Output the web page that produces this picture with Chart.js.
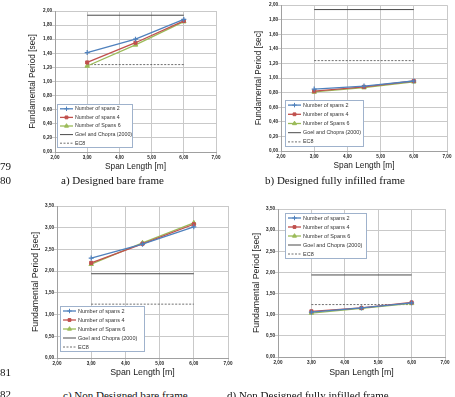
<!DOCTYPE html>
<html>
<head>
<meta charset="utf-8">
<script src="https://cdn.jsdelivr.net/npm/chart.js@4.4.0/dist/chart.umd.min.js"></script>
<style>
  html, body { margin: 0; padding: 0; background: #fff; }
  body { width: 455px; height: 397px; position: relative; overflow: hidden; }
  canvas { position: absolute; }
  .txt { position: absolute; font-family: "Liberation Serif", "Times New Roman", serif; font-size: 11px; line-height: 12px; color: #111; white-space: nowrap; z-index: 2; }
</style>
</head>
<body>
<canvas id="chartA" style="left:0px;top:0px" width="228" height="175"></canvas>
<canvas id="chartB" style="left:228px;top:0px" width="227" height="175"></canvas>
<canvas id="chartC" style="left:0px;top:196px" width="240" height="184"></canvas>
<canvas id="chartD" style="left:228px;top:196px" width="227" height="184"></canvas>

<div class="txt" style="left:0px;top:160px">79</div>
<div class="txt" style="left:0px;top:174px">80</div>
<div class="txt" style="left:0px;top:366px">81</div>
<div class="txt" style="left:0px;top:388px">82</div>
<div class="txt" style="left:61px;top:174px">a) Designed bare frame</div>
<div class="txt" style="left:265px;top:174px">b) Designed fully infilled frame</div>
<div class="txt" style="left:63px;top:389px">c) Non Designed bare frame</div>
<div class="txt" style="left:227px;top:389px">d) Non Designed fully infilled frame</div>

<script>
// span lengths [m] of the analysed frames, and the ends of the code lines
const spanLength = [3.0, 4.5, 6.0];
const codeSpan = [3.0, 6.0];
const goelChopra = [1.94, 1.94];
const ec8 = [1.24, 1.24];

// a) designed bare frame
const aSpans2 = [1.41, 1.60, 1.88];
const aSpans4 = [1.27, 1.55, 1.86];
const aSpans6 = [1.22, 1.52, 1.85];
// b) designed fully infilled frame
const bSpans2 = [0.85, 0.89, 0.96];
const bSpans4 = [0.82, 0.88, 0.96];
const bSpans6 = [0.81, 0.87, 0.95];
// c) non designed bare frame
const cSpans2 = [2.30, 2.62, 3.02];
const cSpans4 = [2.19, 2.63, 3.08];
const cSpans6 = [2.16, 2.65, 3.11];
// d) non designed fully infilled frame
const dSpans2 = [1.06, 1.16, 1.28];
const dSpans4 = [1.08, 1.16, 1.29];
const dSpans6 = [1.04, 1.15, 1.27];

const seriesLabels = ['Number of spans 2', 'Number of spans 4', 'Number of Spans 6', 'Goel and Chopra (2000)', 'EC8'];

const FONT = '"Liberation Sans", Arial, sans-serif';
const fmt = v => v.toFixed(2).replace('.', ',');
const pts = (xs, ys) => xs.map((x, i) => ({ x: x, y: ys[i] }));

// legend drawn as a framed box inside the plot area, like the spreadsheet one
const boxLegend = {
    id: 'boxLegend',
    afterDatasetsDraw(chart, args, opts) {
        const { ctx, chartArea } = chart;
        const x = chartArea.left + opts.dx;
        const y = opts.fromTop ? chartArea.top + opts.dy : chartArea.bottom - opts.dy - opts.height;
        const rowH = opts.height / 5;
        ctx.save();
        ctx.fillStyle = '#fff';
        ctx.strokeStyle = '#9fb2cc';
        ctx.lineWidth = 1;
        ctx.fillRect(x, y, opts.width, opts.height);
        ctx.strokeRect(x + 0.5, y + 0.5, opts.width, opts.height);
        ctx.font = opts.fontSize + 'px ' + FONT;
        ctx.textBaseline = 'middle';
        chart.data.datasets.forEach((ds, i) => {
            const cy = y + rowH * (i + 0.5) + 0.5;
            ctx.strokeStyle = ds.borderColor;
            ctx.lineWidth = ds.borderWidth;
            ctx.setLineDash(ds.borderDash || []);
            ctx.beginPath();
            ctx.moveTo(x + 3, cy);
            ctx.lineTo(x + 16, cy);
            ctx.stroke();
            ctx.setLineDash([]);
            if (ds.pointRadius > 0 && Chart.helpers && Chart.helpers.drawPoint) {
                ctx.fillStyle = ds.pointBackgroundColor;
                ctx.strokeStyle = ds.borderColor;
                ctx.lineWidth = 1;
                Chart.helpers.drawPoint(ctx, { pointStyle: ds.pointStyle, radius: ds.pointRadius * 0.9, borderWidth: 1 }, x + 9.5, cy);
            }
            ctx.fillStyle = '#333';
            ctx.fillText(ds.label, x + 18, cy);
        });
        ctx.restore();
    }
};

function makeChart(id, s2, s4, s6, opt) {
    const ctx = document.getElementById(id).getContext('2d');
    return new Chart(ctx, {
        type: 'line',
        data: {
            datasets: [
                { label: seriesLabels[0], data: pts(spanLength, s2), borderColor: '#4f81bd', pointBackgroundColor: '#4f81bd',
                  borderWidth: 1.3, pointStyle: 'cross', pointRadius: 2.5, pointBorderWidth: 1.2 },
                { label: seriesLabels[1], data: pts(spanLength, s4), borderColor: '#c0504d', pointBackgroundColor: '#c0504d',
                  borderWidth: 1.3, pointStyle: 'rect', pointRadius: 2.2, pointBorderWidth: 1 },
                { label: seriesLabels[2], data: pts(spanLength, s6), borderColor: '#9bbb59', pointBackgroundColor: '#9bbb59',
                  borderWidth: 1.3, pointStyle: 'triangle', pointRadius: 2.6, pointBorderWidth: 1 },
                { label: seriesLabels[3], data: pts(codeSpan, goelChopra), borderColor: '#4a4a4a', pointBackgroundColor: '#4a4a4a',
                  borderWidth: 1, pointRadius: 0 },
                { label: seriesLabels[4], data: pts(codeSpan, ec8), borderColor: '#4a4a4a', pointBackgroundColor: '#4a4a4a',
                  borderWidth: 0.8, borderDash: [2, 1.5], pointRadius: 0 }
            ]
        },
        options: {
            responsive: false,
            animation: false,
            devicePixelRatio: 1,
            layout: { padding: opt.padding },
            plugins: {
                legend: { display: false },
                tooltip: { enabled: false },
                boxLegend: opt.legend
            },
            scales: {
                x: {
                    type: 'linear', min: 2, max: 7,
                    ticks: { stepSize: 1, padding: 0, color: '#222', font: { family: FONT, size: 4.6, weight: 'bold' }, callback: fmt },
                    grid: { color: '#c9c9c9', tickLength: 3 },
                    border: { color: '#a0a0a0' },
                    title: { display: true, text: 'Span Length [m]', color: '#1a1a1a', padding: 0, font: { family: FONT, size: opt.titleSize } },
                    afterFit: scale => { scale.height = opt.xHeight; }
                },
                y: {
                    min: 0, max: opt.yMax,
                    ticks: { stepSize: opt.yStep, padding: 0, color: '#222', font: { family: FONT, size: 4.6, weight: 'bold' }, callback: fmt },
                    grid: { color: '#c9c9c9', tickLength: 3 },
                    border: { color: '#a0a0a0' },
                    title: { display: true, text: 'Fundamental Period [sec]', color: '#1a1a1a', padding: 0, font: { family: FONT, size: opt.titleSize } },
                    afterFit: scale => { scale.width = 27; }
                }
            }
        },
        plugins: [boxLegend]
    });
}

makeChart('chartA', aSpans2, aSpans4, aSpans6, {
    padding: { left: 28, top: 11, right: 12, bottom: 3 }, xHeight: 20, yMax: 2, yStep: 0.2, titleSize: 8.3,
    legend: { dx: 2, dy: 5, fromTop: false, width: 75, height: 43, fontSize: 5.3 }
});
makeChart('chartB', bSpans2, bSpans4, bSpans6, {
    padding: { left: 26, top: 5, right: 8, bottom: 4 }, xHeight: 20, yMax: 2, yStep: 0.2, titleSize: 8.3,
    legend: { dx: 4, dy: 5, fromTop: false, width: 78, height: 46, fontSize: 5.4 }
});
makeChart('chartC', cSpans2, cSpans4, cSpans6, {
    padding: { left: 30, top: 10, right: 12, bottom: 2 }, xHeight: 20, yMax: 3.5, yStep: 0.5, titleSize: 8.8,
    legend: { dx: 3, dy: 7, fromTop: false, width: 84, height: 45, fontSize: 5.5 }
});
makeChart('chartD', dSpans2, dSpans4, dSpans6, {
    padding: { left: 23, top: 13, right: 10, bottom: 2 }, xHeight: 21, yMax: 3.5, yStep: 0.5, titleSize: 8.8,
    legend: { dx: 7, dy: 4, fromTop: true, width: 81, height: 45, fontSize: 5.5 }
});
</script>
</body>
</html>
